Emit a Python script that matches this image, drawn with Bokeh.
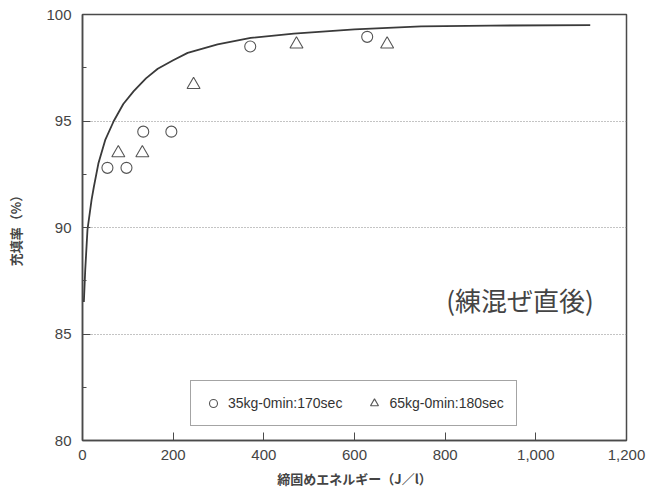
from bokeh.plotting import figure
from bokeh.models import (Legend, LegendItem, NumeralTickFormatter,
                          FixedTicker, Label, Range1d)
from bokeh.embed import file_html
from bokeh.resources import INLINE

# ---- data ----
circle_x = [55, 97, 134, 196, 370, 628]
circle_y = [92.8, 92.8, 94.5, 94.5, 98.5, 98.95]
tri_x = [79, 132, 245, 472, 672]
tri_y = [93.5, 93.5, 96.7, 98.6, 98.6]
curve_x = [3, 6, 11, 20, 25, 35, 50, 69, 90, 113, 140, 166, 200, 232, 298, 371,
           466, 600, 747, 900, 1120]
curve_y = [86.5, 88.0, 89.9, 91.3, 91.9, 93.0, 94.1, 95.0, 95.8, 96.4, 97.0, 97.45,
           97.85, 98.2, 98.6, 98.9, 99.1, 99.3, 99.44, 99.48, 99.5]
x_ticks = [0, 200, 400, 600, 800, 1000, 1200]
y_ticks = [80, 85, 90, 95, 100]
series_names = ["35kg-0min:170sec", "65kg-0min:180sec"]
annotation = "(練混ぜ直後)"
x_label = "締固めエネルギー（J／l）"
y_label = "充填率（%）"

INK = "#4a4a4a"
FONT = "Liberation Sans"

p = figure(width=646, height=492, output_backend="svg", toolbar_location=None,
           x_range=Range1d(0, 1200), y_range=Range1d(80, 100),
           min_border_left=82, min_border_right=20, min_border_top=14,
           min_border_bottom=52)
p.background_fill_color = "white"
p.border_fill_color = "white"
p.outline_line_color = INK
p.outline_line_width = 1.5

# axes
p.xaxis.ticker = FixedTicker(ticks=x_ticks)
p.xaxis.formatter = NumeralTickFormatter(format="0,0")
p.yaxis.ticker = FixedTicker(ticks=y_ticks, minor_ticks=[82.5, 87.5, 92.5, 97.5])
for ax in (p.xaxis, p.yaxis):
    ax.axis_line_color = INK
    ax.axis_line_width = 1.5
    ax.major_tick_in = 8
    ax.major_tick_out = 0
    ax.major_tick_line_color = INK
    ax.major_label_text_font = FONT
    ax.major_label_text_font_size = "15px"
    ax.major_label_text_color = "#444444"
    ax.axis_label_text_font = "Noto Sans CJK JP"
    ax.axis_label_text_font_size = "13px"
    ax.axis_label_text_font_style = "bold"
    ax.axis_label_text_color = "#444444"
p.xaxis.minor_tick_line_color = None
p.yaxis.minor_tick_in = 4
p.yaxis.minor_tick_out = 0
p.yaxis.minor_tick_line_color = INK
p.xaxis.axis_label = x_label
p.yaxis.axis_label = y_label
p.xaxis.major_label_standoff = 9
p.yaxis.major_label_standoff = 11
p.xaxis.axis_label_standoff = 6
p.yaxis.axis_label_standoff = 18

# grid
p.xgrid.grid_line_color = None
p.ygrid.ticker = FixedTicker(ticks=[85, 90, 95])
p.ygrid.grid_line_color = "#888888"
p.ygrid.grid_line_dash = "1 2"
p.ygrid.grid_line_width = 1

# curve
p.line(curve_x, curve_y, line_color="#3a3a3a", line_width=1.8)

# points
c = p.scatter(circle_x, circle_y, marker="circle", size=11, fill_color=None,
              line_color="#555555", line_width=1.1)
t = p.scatter(tri_x, tri_y, marker="triangle", size=13, fill_color=None,
              line_color="#555555", line_width=1.1)

legend = Legend(items=[LegendItem(label=series_names[0], renderers=[c]),
                       LegendItem(label=series_names[1], renderers=[t])],
                orientation="horizontal", location=(108, 14),
                border_line_color=INK, border_line_width=1,
                label_text_font=FONT, label_text_font_size="14px",
                label_text_color="#333333", padding=12, spacing=22,
                background_fill_alpha=1)
p.add_layout(legend, "center")

p.add_layout(Label(x=965, y=86.6, text=annotation, text_font="Noto Sans CJK JP",
                   text_font_size="26px", text_color="#444444",
                   text_align="center", text_baseline="middle"))

open("out.html", "w").write(file_html(p, INLINE))
